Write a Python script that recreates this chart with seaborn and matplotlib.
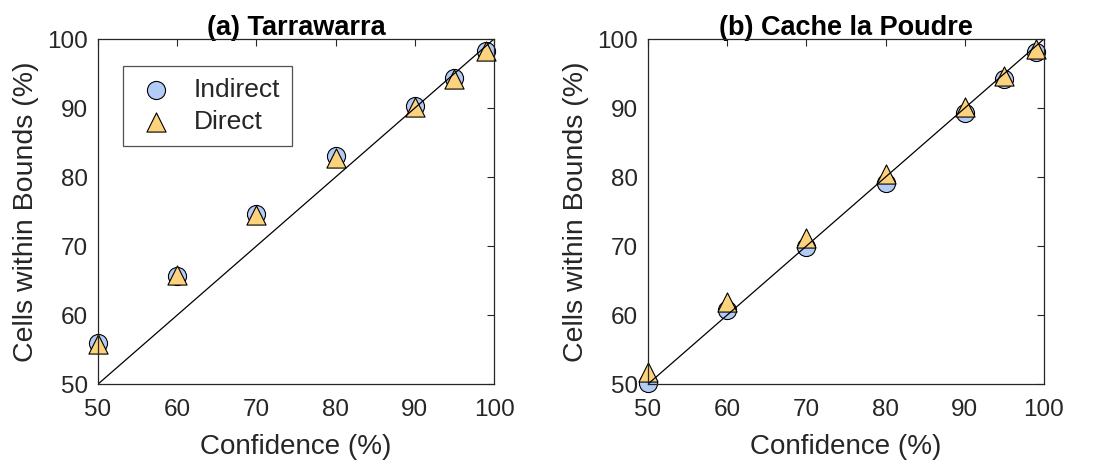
import numpy as np
import pandas as pd
import matplotlib
matplotlib.use("Agg")
import matplotlib.pyplot as plt
import seaborn as sns

confidence = [50, 60, 70, 80, 90, 95, 99]
tarra_indirect = [55.9, 65.6, 74.7, 83.0, 90.3, 94.3, 98.2]
tarra_direct = [55.8, 65.8, 74.5, 82.7, 90.2, 94.2, 98.3]
cache_indirect = [50.2, 60.8, 69.8, 79.1, 89.3, 94.2, 98.1]
cache_direct = [51.8, 61.9, 71.1, 80.5, 90.1, 94.7, 98.5]
titles = ["(a) Tarrawarra", "(b) Cache la Poudre"]
diag = [50, 100]
ticks = [50, 60, 70, 80, 90, 100]

sns.set_theme(style="white")
plt.rcParams['font.family'] = ['Liberation Sans', 'DejaVu Sans']

fig = plt.figure(figsize=(10.99, 4.73), dpi=100)
ax1 = fig.add_axes([0.0892, 0.188, 0.3603, 0.7295])
ax2 = fig.add_axes([0.5896, 0.188, 0.3603, 0.7295])

dark = "#262626"
palette = {"Indirect": "#b3cbf7", "Direct": "#fdd27c"}
markers = {"Indirect": "o", "Direct": "^"}

for ax, ind, dirv, title in [(ax1, tarra_indirect, tarra_direct, titles[0]),
                             (ax2, cache_indirect, cache_direct, titles[1])]:
    df = pd.DataFrame({
        "Confidence": confidence * 2,
        "Cells": ind + dirv,
        "Method": ["Indirect"] * len(confidence) + ["Direct"] * len(confidence),
    })
    ax.plot(diag, diag, color="black", lw=0.9, zorder=4)
    for m, s, z in [("Indirect", 170, 3), ("Direct", 190, 3.5)]:
        sns.scatterplot(data=df[df.Method == m], x="Confidence", y="Cells",
                        marker=markers[m], color=palette[m], s=s,
                        edgecolor="black", linewidth=0.8, ax=ax, zorder=z,
                        label=m, legend=False, clip_on=False)
    ax.set_xlim(50, 100)
    ax.set_ylim(50, 100)
    ax.set_xticks(ticks)
    ax.set_yticks(ticks)
    ax.tick_params(direction="in", length=5, width=0.8, top=True, right=True,
                   labelsize=17.5, colors=dark, pad=7)
    ax.tick_params(axis="x", pad=11)
    for sp in ax.spines.values():
        sp.set_color(dark)
        sp.set_linewidth(0.9)
        sp.set_zorder(5)
    ax.set_xlabel("Confidence (%)", fontsize=20, color=dark, labelpad=9)
    ax.set_ylabel("Cells within Bounds (%)", fontsize=20.5, color=dark, labelpad=6)
    ax.set_title(title, fontsize=19.5, fontweight="bold", color="black", pad=3)

h, l = ax1.get_legend_handles_labels()
leg = ax1.legend(h, l, loc="upper left", bbox_to_anchor=(0.063, 0.922),
                 fontsize=19, frameon=True, fancybox=False, edgecolor=dark,
                 borderpad=0.45, handletextpad=0.62, labelspacing=0.3,
                 handlelength=1.6, borderaxespad=0, markerscale=1.0)
leg.get_frame().set_linewidth(0.9)
leg.set_zorder(10)

fig.savefig("out.png", dpi=100)
